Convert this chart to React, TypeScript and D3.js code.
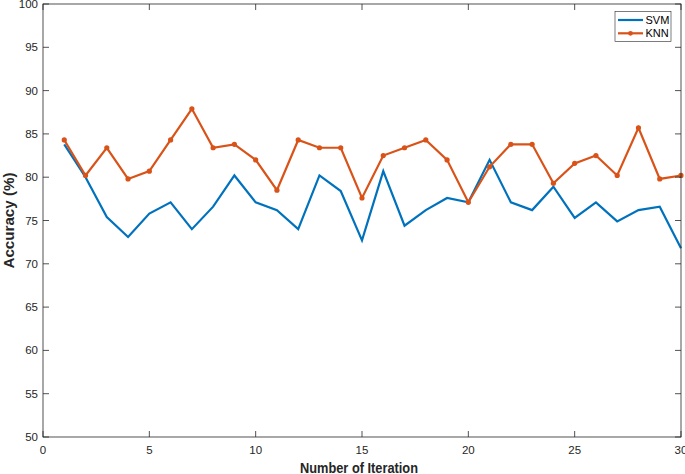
import React from "react";
import * as d3 from "d3";

const iterations = Array.from({ length: 30 }, (_, i) => i + 1);
const svmValues = [83.8, 80.0, 75.4, 73.1, 75.8, 77.1, 74.0, 76.6, 80.2, 77.1, 76.2, 74.0, 80.2, 78.4, 72.7, 80.7, 74.4, 76.2, 77.6, 77.1, 82.0, 77.1, 76.2, 78.9, 75.3, 77.1, 74.9, 76.2, 76.6, 71.8];
const knnValues = [84.3, 80.2, 83.4, 79.8, 80.7, 84.3, 87.9, 83.4, 83.8, 82.0, 78.5, 84.3, 83.4, 83.4, 77.6, 82.5, 83.4, 84.3, 82.0, 77.1, 81.2, 83.8, 83.8, 79.3, 81.6, 82.5, 80.2, 85.7, 79.8, 80.2];
const xTicks = [0, 5, 10, 15, 20, 25, 30];
const yTicks = [50, 55, 60, 65, 70, 75, 80, 85, 90, 95, 100];
const seriesNames = ["SVM", "KNN"];

const W = 685, H = 474;
const L = 43, R = 681, T = 4, B = 437;
const BLUE = "#0072BD", ORANGE = "#D95319", AX = "#262626";
const FONT = "'Liberation Sans', Arial, Helvetica, sans-serif";

export default function App() {
  const x = d3.scaleLinear().domain([0, 30]).range([L, R]);
  const y = d3.scaleLinear().domain([50, 100]).range([B, T]);
  const line = d3.line<number>().x((_, i) => x(iterations[i])).y((d) => y(d));
  const tk = 6;
  return (
    <svg width={W} height={H} style={{ position: "absolute", left: 0, top: 0, background: "#fff" }} fontFamily={FONT}>
      <rect x={0} y={0} width={W} height={H} fill="#fff" />
      <path d={line(svmValues) || ""} fill="none" stroke={BLUE} strokeWidth={2.2} strokeLinejoin="miter" />
      <path d={line(knnValues) || ""} fill="none" stroke={ORANGE} strokeWidth={2.2} />
      {knnValues.map((v, i) => (
        <circle key={i} cx={x(iterations[i])} cy={y(v)} r={2.6} fill={ORANGE} />
      ))}
      <rect x={L} y={T} width={R - L} height={B - T} fill="none" stroke={AX} strokeWidth={0.8} />
      {xTicks.map((t) => (
        <g key={"x" + t}>
          <line x1={x(t)} x2={x(t)} y1={B} y2={B - tk} stroke={AX} strokeWidth={0.8} />
          <line x1={x(t)} x2={x(t)} y1={T} y2={T + tk} stroke={AX} strokeWidth={0.8} />
          <text x={x(t)} y={454} textAnchor="middle" fontSize={11.5} fill={AX}>{t}</text>
        </g>
      ))}
      {yTicks.map((t) => (
        <g key={"y" + t}>
          <line x1={L} x2={L + tk} y1={y(t)} y2={y(t)} stroke={AX} strokeWidth={0.8} />
          <line x1={R} x2={R - tk} y1={y(t)} y2={y(t)} stroke={AX} strokeWidth={0.8} />
          <text x={38} y={y(t) + 4} textAnchor="end" fontSize={11.5} fill={AX}>{t}</text>
        </g>
      ))}
      <text x={359} y={473} textAnchor="middle" fontSize={15} fontWeight="bold" fill={AX} textLength={118} lengthAdjust="spacingAndGlyphs">Number of Iteration</text>
      <text transform={`translate(13.5,${(T + B) / 2}) rotate(-90)`} textAnchor="middle" fontSize={15} fontWeight="bold" fill={AX} textLength={96} lengthAdjust="spacingAndGlyphs">Accuracy (%)</text>
      <g>
        <rect x={615} y={11.5} width={56} height={30} fill="#fff" stroke={AX} strokeWidth={0.6} />
        <line x1={618} x2={643} y1={20} y2={20} stroke={BLUE} strokeWidth={2.2} />
        <text x={645.5} y={24} fontSize={11} fill="#000">{seriesNames[0]}</text>
        <line x1={618} x2={643} y1={33.3} y2={33.3} stroke={ORANGE} strokeWidth={2.2} />
        <circle cx={630.5} cy={33.3} r={2.4} fill={ORANGE} />
        <text x={645.5} y={37.3} fontSize={11} fill="#000">{seriesNames[1]}</text>
      </g>
    </svg>
  );
}
